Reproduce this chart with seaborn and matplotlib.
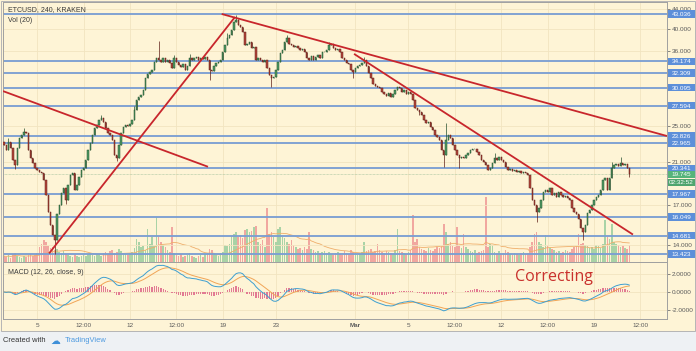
import numpy as np
import pandas as pd
import matplotlib
matplotlib.use("Agg")
import matplotlib.pyplot as plt
import matplotlib.transforms as mtransforms
from matplotlib.patches import Rectangle
from matplotlib.ticker import NullLocator
import seaborn as sns

# ---------------- data (4h candles, ETCUSD Kraken, Feb 2 - Mar 22) ----------------
closes = [
    22.82, 22.27, 23.15, 22.49, 21.22, 20.71, 22.49, 23.60, 23.94, 24.29,
    24.17, 22.27, 21.42, 20.91, 20.41, 20.21, 20.02, 19.92, 19.26, 17.90,
    16.49, 15.48, 14.75, 14.40, 16.26, 17.06, 18.08, 18.52, 17.48, 18.79,
    19.73, 19.92, 18.34, 18.79, 19.54, 20.21, 20.41, 21.22, 22.27, 23.04,
    23.94, 24.76, 25.12, 25.74, 25.99, 25.49, 24.76, 24.17, 23.94, 23.37,
    21.74, 21.42, 22.82, 24.17, 24.88, 25.12, 25.00, 25.25, 25.74, 27.02,
    28.36, 28.78, 29.06, 29.77, 31.55, 32.17, 32.49, 32.80, 34.10, 34.77,
    34.44, 34.10, 34.77, 34.10, 34.44, 33.94, 33.12, 34.77, 34.10, 33.61,
    33.28, 33.77, 32.80, 33.45, 34.77, 34.44, 34.77, 34.94, 34.44, 34.77,
    34.60, 34.94, 34.44, 32.80, 32.64, 33.45, 33.94, 34.10, 34.44, 35.80,
    37.04, 38.31, 38.87, 39.83, 41.40, 41.80, 40.80, 40.41, 39.44, 37.04,
    37.22, 37.58, 36.50, 36.68, 34.44, 34.77, 34.44, 34.10, 34.44, 33.12,
    32.02, 31.55, 31.71, 32.80, 34.10, 35.63, 36.15, 37.58, 38.31, 37.22,
    37.04, 36.68, 36.86, 36.50, 36.15, 36.32, 35.80, 34.77, 34.44, 35.11,
    34.44, 34.94, 35.28, 34.77, 35.80, 35.80, 36.15, 37.04, 37.22, 36.50,
    36.15, 36.32, 35.80, 34.77, 34.44, 33.94, 33.77, 32.80, 32.49, 33.12,
    33.45, 33.61, 33.94, 34.44, 33.45, 32.33, 31.55, 30.65, 30.35, 30.21,
    30.06, 29.49, 29.20, 28.92, 29.34, 28.78, 29.20, 29.77, 30.21, 30.06,
    29.49, 29.77, 29.20, 29.49, 29.20, 28.36, 27.28, 27.02, 26.76, 26.37,
    25.74, 25.37, 25.49, 24.88, 24.52, 23.94, 23.71, 23.37, 22.27, 21.74,
    23.37, 23.94, 23.60, 22.82, 22.27, 21.74, 21.42, 21.53, 21.42, 21.74,
    21.95, 22.27, 22.38, 22.38, 22.06, 21.74, 21.22, 21.01, 20.71, 20.21,
    20.41, 20.91, 21.42, 21.22, 21.53, 21.22, 21.01, 20.51, 20.21, 20.31,
    20.11, 20.21, 20.02, 20.11, 19.92, 20.02, 19.92, 19.73, 18.52, 17.48,
    17.06, 16.49, 16.81, 17.48, 18.16, 18.34, 18.16, 18.52, 17.90, 18.08,
    17.73, 18.16, 17.90, 17.73, 17.82, 17.65, 17.48, 16.81, 16.49, 16.26,
    15.87, 15.26, 14.97, 15.48, 16.41, 16.65, 17.06, 17.48, 17.73, 17.90,
    18.34, 19.26, 19.44, 18.34, 19.44, 20.41, 20.71, 20.81, 20.61, 20.91,
    20.71, 20.81, 20.41, 19.745,
]
first_open = 23.10

volumes = [
    60, 50, 70, 40, 80, 90, 60, 50, 40, 60, 50, 70, 80, 60, 70, 90,
    150, 180, 220, 200, 160, 140, 150, 120,
    130, 100, 90, 110, 80, 70, 60, 50, 70, 60, 50, 60,
    70, 60, 80, 90, 70, 60, 80, 70, 60, 90, 100, 80, 110, 120, 90,
    100, 130, 110, 90, 80, 70, 90, 100, 140,
    230, 200, 150, 160, 120, 330, 180, 250, 160, 450, 250, 200, 170, 150,
    120, 100, 350,
    90, 70, 60, 80, 50, 60, 70, 90, 60, 50, 40, 60, 70, 50, 80, 90,
    130, 120, 80, 70, 60, 90, 100,
    170, 160, 180, 260, 280, 300, 250, 270, 240,
    320, 330, 300, 310, 350, 360, 200, 180, 220, 150,
    540, 280, 300, 250, 200,
    330, 350, 250, 240, 200, 180, 220, 170,
    150, 130, 140, 120, 150, 130,
    300, 130, 120, 100, 110, 90, 100, 110,
    90, 100, 80, 70, 90, 100, 80, 70, 110, 90, 80, 120, 100, 90, 70, 80, 100,
    200, 110, 120, 130, 100, 110,
    180, 120, 100, 90, 110, 100, 90, 80, 120,
    330,
    110, 100, 90, 80, 100, 120,
    470,
    200, 230, 150, 130, 120, 110, 140, 120, 110, 130, 150, 140, 160,
    380, 300, 180, 200, 160, 150,
    350, 160, 140, 280,
    150, 130, 110, 100, 120, 90, 100, 110, 120,
    650, 150, 180, 170,
    100, 90, 110, 80, 90, 120, 100, 80, 70, 90, 80, 70, 90, 100, 80, 90, 150, 200,
    280, 300, 200, 180, 150, 270,
    160, 140, 130, 120, 100, 110, 90, 100, 120, 110, 100, 130, 150, 160,
    280, 180, 190, 170, 160, 140, 150, 130, 170, 160, 140, 180,
    420, 250, 230, 380, 200, 180, 170, 150, 160, 140, 130, 170,
]

wick_high = {2: 23.6, 9: 24.8, 44: 26.4, 59: 27.6, 70: 37.8, 77: 35.3, 84: 35.4,
             101: 39.2, 105: 42.9, 106: 42.0, 128: 38.9, 147: 37.6, 163: 34.9,
             200: 25.3, 222: 21.9, 275: 21.0, 279: 21.5}
wick_low = {5: 20.3, 23: 13.45, 28: 17.1, 51: 21.1, 93: 31.2, 121: 30.2, 158: 31.5,
            188: 26.3, 199: 20.5, 206: 20.4, 241: 15.7, 262: 14.4, 283: 19.5}

levels = [43.036, 34.174, 32.309, 30.095, 27.594, 23.826, 22.965, 20.341,
          17.967, 16.049, 14.681, 13.423]
level_labels = ["43.036", "34.174", "32.309", "30.095", "27.594", "23.826",
                "22.965", "20.341", "17.967", "16.049", "14.681", "13.423"]
price_ticks = [44, 40, 36, 25, 21, 17, 14]
price_tick_labels = ["44.000", "40.000", "36.000", "25.000", "21.000",
                     "17.000", "14.000"]
last_price = 19.745
last_price_label = "19.745"
countdown_label = "02:32:52"

time_tick_pos = [15, 36, 57, 78, 99, 123, 159, 183, 204, 225, 246, 267, 288]
time_tick_labels = ["5", "12:00", "12", "12:00", "19", "23", "Mar", "5",
                    "12:00", "12", "12:00", "19", "12:00"]
macd_ticks = [-2, 0, 2]
macd_tick_labels = ["-2.0000", "0.0000", "2.0000"]

trend_lines = [((-0.45, 29.6), (92.3, 20.5)),
               ((20.4, 13.46), (104.5, 42.4)),
               ((98.5, 43.04), (300.0, 23.8)),
               ((158.4, 35.46), (284.6, 14.75))]

# ---------------- style ----------------
sns.set_theme(style="white")
plt.rcParams["font.family"] = ["Liberation Sans", "DejaVu Sans"]

CREAM = "#fef4d6"
GRID = "#f1e4c0"
BORDER = "#a0a0a0"
LEVEL_C = "#7c9fd2"
BOX_C = "#5d8fd9"
RED_LINE = "#c8262c"
TICK_C = "#5a5a5a"

W, H = 696, 351
fig = plt.figure(figsize=(W / 100, H / 100), dpi=100, facecolor=CREAM)


def fx(px):
    return px / W


def fy(py):
    return 1 - py / H


n = len(closes)
idx = np.arange(n)
c = np.array(closes)
o = np.r_[first_open, c[:-1]]
up = c >= o
hi = np.maximum(o, c)
lo = np.minimum(o, c)
df = pd.DataFrame({"i": idx, "close": c, "open": o, "vol": volumes})
df["vol_ma"] = df["vol"].rolling(20, min_periods=1).mean()
ema12 = df["close"].ewm(span=12, adjust=False).mean()
ema26 = df["close"].ewm(span=26, adjust=False).mean()
df["macd"] = ema12 - ema26
df["signal"] = df["macd"].ewm(span=9, adjust=False).mean()
df["hist"] = df["macd"] - df["signal"]

main_rect = [fx(3), fy(262), fx(667) - fx(3), fy(2) - fy(262)]
axv = fig.add_axes(main_rect, facecolor=CREAM)
ax = fig.add_axes(main_rect, sharex=axv, facecolor="none")
axm = fig.add_axes([fx(3), fy(319), fx(667) - fx(3), fy(262) - fy(319)],
                   sharex=axv, facecolor=CREAM)
axv.set_zorder(0)
ax.set_zorder(1)

# ---- volume (behind) ----
vcol = np.where(up, "#a9d3a6", "#f1a7a0")
axv.bar(idx, volumes, width=0.72, color=vcol, linewidth=0, zorder=2)
sns.lineplot(data=df, x="i", y="vol_ma", ax=axv, color="#efae6a", lw=0.6,
             legend=False, zorder=3)
axv.set_ylim(0, 2600)
axv.set_xlim(-0.45, 300)
axv.axis("off")
for t in time_tick_pos:
    axv.axvline(t, color=GRID, lw=0.6, zorder=0)

# ---- price panel ----
ax.set_yscale("log")
ax.set_ylim(12.91, 45.62)
for p in price_ticks:
    ax.axhline(p, color=GRID, lw=0.6, zorder=0)
for lv in levels:
    ax.axhline(lv, color=LEVEL_C, lw=1.35, zorder=1)
ax.axhline(last_price, color="#9fbf9a", lw=0.5, ls=(0, (1, 1)), zorder=1)

body_col = np.where(up, "#4f9a63", "#b4463c")
edge_col = np.where(up, "#24502f", "#5e1d16")
w_hi = np.array([wick_high.get(i, h) for i, h in enumerate(hi)])
w_lo = np.array([wick_low.get(i, l) for i, l in enumerate(lo)])
ax.vlines(idx, w_lo, w_hi, colors=edge_col, lw=0.5, zorder=2)
ax.bar(idx, hi - lo, bottom=lo, width=0.62, color=body_col,
       edgecolor=edge_col, linewidth=0.35, zorder=3)

for (x0, y0), (x1, y1) in trend_lines:
    ax.plot([x0, x1], [y0, y1], color=RED_LINE, lw=1.3, zorder=4,
            solid_capstyle="butt")

ax.yaxis.tick_right()
ax.set_yticks(price_ticks)
ax.set_yticklabels(price_tick_labels)
ax.yaxis.set_minor_locator(NullLocator())
ax.tick_params(axis="y", which="both", labelsize=4.6, colors=TICK_C,
               length=2.2, width=0.5, pad=1.5, direction="out")
ax.tick_params(axis="x", labelbottom=False, length=0)
ax.set_xlabel("")
ax.set_ylabel("")
for sp in ax.spines.values():
    sp.set_color(BORDER)
    sp.set_linewidth(0.7)

# right-axis level boxes
btrans = mtransforms.blended_transform_factory(fig.transFigure, ax.transData)


def price_box(value, label, fc, dy_px=0.0):
    t = (mtransforms.Affine2D().scale(27, 7.5).translate(0, -3.75 + dy_px)
         + mtransforms.ScaledTranslation(fx(668), value, btrans))
    ax.add_patch(Rectangle((0, 0), 1, 1, transform=t, facecolor=fc,
                           edgecolor="none", clip_on=False, zorder=6))
    tt = mtransforms.offset_copy(btrans, fig=fig, x=0, y=dy_px * 0.72, units="points")
    ax.text(fx(681.5), value, label, transform=tt, ha="center",
            va="center_baseline", fontsize=4.6, color="white", zorder=7,
            clip_on=False)


for lv, lb in zip(levels, level_labels):
    price_box(lv, lb, BOX_C)
price_box(last_price, last_price_label, "#56b47a")
price_box(last_price, countdown_label, "#4fa56f", dy_px=-8)

# ---- MACD panel ----
for t in time_tick_pos:
    axm.axvline(t, color=GRID, lw=0.6, zorder=0)
for m in macd_ticks:
    axm.axhline(m, color=GRID, lw=0.6, zorder=0)
axm.bar(idx, df["hist"], width=0.55, color="#e27a93", linewidth=0, zorder=2)
sns.lineplot(data=df, x="i", y="signal", ax=axm, color="#f1a556", lw=0.7,
             legend=False, zorder=3)
sns.lineplot(data=df, x="i", y="macd", ax=axm, color="#3e9fd0", lw=0.7,
             legend=False, zorder=4)
axm.set_ylim(-3.0, 3.33)
axm.set_xlim(-0.45, 300)
axm.yaxis.tick_right()
axm.set_yticks(macd_ticks)
axm.set_yticklabels(macd_tick_labels)
axm.set_xticks(time_tick_pos)
axm.set_xticklabels(time_tick_labels)
axm.tick_params(axis="y", labelsize=4.6, colors=TICK_C, length=2.2, width=0.5,
                pad=1.5, direction="out")
axm.tick_params(axis="x", labelsize=4.6, colors=TICK_C, length=0, pad=3)
for lbl in axm.get_xticklabels():
    if lbl.get_text() == "Mar":
        lbl.set_fontweight("bold")
axm.set_xlabel("")
axm.set_ylabel("")
for sp in axm.spines.values():
    sp.set_color(BORDER)
    sp.set_linewidth(0.7)

# ---- texts ----
fig.text(fx(8), fy(10), "ETCUSD, 240, KRAKEN", fontsize=5, color="#3a3a3a",
         va="center", ha="left")
fig.text(fx(8), fy(21), "Vol (20)", fontsize=5, color="#3a3a3a", va="center",
         ha="left")
fig.text(fx(8), fy(272), "MACD (12, 26, close, 9)", fontsize=5, color="#3a3a3a",
         va="center", ha="left")
fig.text(fx(554), fy(277), "Correcting", fontsize=11.5, color="#c9302c",
         ha="center", va="center", family=["Open Sans", "DejaVu Sans"])

# bottom strip + outer border
fig.patches.append(Rectangle((0, 0), 1, fy(331), transform=fig.transFigure,
                             facecolor="#eef1f4", edgecolor="none", zorder=-5))
fig.patches.append(Rectangle((fx(1), fy(331)), fx(694), fy(1) - fy(331),
                             transform=fig.transFigure, facecolor="none",
                             edgecolor="#b5b5b5", lw=0.7, zorder=5))
fig.text(fx(3), fy(341), "Created with", fontsize=5.4, color="#333333",
         va="center", ha="left")
fig.text(fx(50), fy(341), "\u2601", fontsize=7, color="#3d8fd8", va="center",
         ha="left", family=["DejaVu Sans"])
fig.text(fx(65), fy(341), "TradingView", fontsize=5.4, color="#4d9ae0",
         va="center", ha="left")

fig.savefig("out.png", dpi=100, facecolor=CREAM)
